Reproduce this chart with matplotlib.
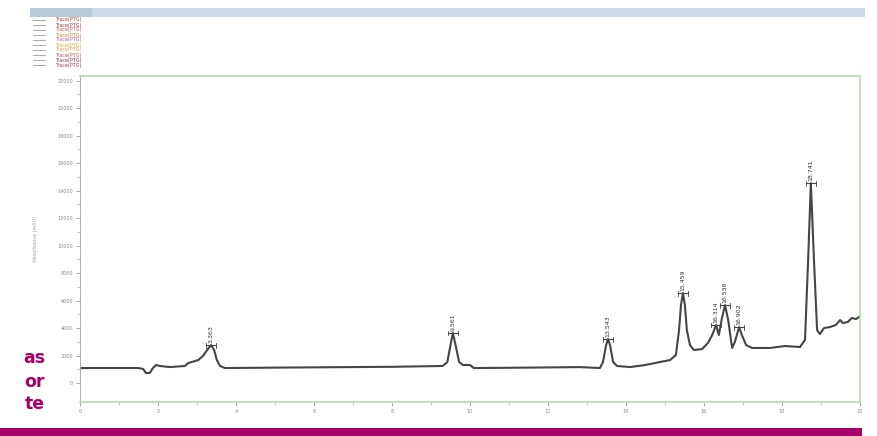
import numpy as np
import matplotlib.pyplot as plt
from matplotlib.patches import Rectangle

# chromatogram trace (time in min, signal)
time_min = [0.0, 1.5, 1.62, 1.69, 1.79, 1.87, 1.95, 2.05, 2.31, 2.69, 2.77, 2.87, 3.03, 3.15,
            3.26, 3.36, 3.44, 3.51, 3.59, 3.72, 5.0, 6.5, 8.0, 9.3, 9.42, 9.5, 9.56, 9.63,
            9.72, 9.82, 10.0, 10.1, 11.5, 12.82, 13.33, 13.41, 13.49, 13.54, 13.59, 13.67,
            13.77, 14.1, 14.49, 14.74, 14.87, 15.13, 15.28, 15.36, 15.41, 15.46, 15.51,
            15.56, 15.64, 15.74, 15.95, 16.10, 16.21, 16.31, 16.38, 16.46, 16.54, 16.62,
            16.72, 16.79, 16.90, 16.97, 17.08, 17.23, 17.69, 18.08, 18.46, 18.59, 18.67,
            18.74, 18.82, 18.90, 18.97, 19.08, 19.23, 19.38, 19.49, 19.56, 19.69, 19.79,
            19.90, 20.0]
signal = [1090, 1090, 1020, 730, 730, 1090, 1310, 1240, 1160, 1240, 1450, 1530, 1670, 1960,
          2400, 2760, 2400, 1670, 1240, 1090, 1120, 1150, 1180, 1240, 1530, 2760, 3640, 2760,
          1530, 1310, 1310, 1090, 1120, 1160, 1090, 1530, 2760, 3200, 2760, 1530,
          1240, 1160, 1310, 1450, 1530, 1670, 2040, 3850, 5670, 6540, 5670,
          3850, 2760, 2400, 2470, 2910, 3490, 4220, 3490, 4730, 5670, 4580,
          2550, 2980, 4070, 3490, 2760, 2550, 2550, 2690, 2620, 3130, 8940,
          14540, 8940, 3850, 3560, 4000, 4070, 4220, 4580, 4360, 4440, 4730,
          4650, 4870]

# integrated peaks: retention time and apex height
peak_rt = [3.36, 9.56, 13.54, 15.46, 16.31, 16.54, 16.90, 18.74]
peak_h = [2760, 3640, 3200, 6540, 4220, 5670, 4070, 14540]
peak_text = ['3.363', '9.561', '13.543', '15.459', '16.314', '16.538', '16.902', '18.741']

legend_names = ['Trace(PTG)'] * 10
legend_colors = ['#c0392b', '#a0304a', '#d9534f', '#e07b39', '#c65fa0',
                 '#d4b13a', '#e39a52', '#c0504d', '#8a2b52', '#b03060']

x_ticks = np.arange(0, 21, 2)
y_ticks = np.arange(0, 22001, 2000)

W, H = 878, 436
fig = plt.figure(figsize=(W / 100, H / 100), dpi=100)

# header bar of the software window
fig.patches.append(Rectangle((30 / W, 1 - 17 / H), 835 / W, 9 / H, transform=fig.transFigure,
                             facecolor='#cdd9e7', edgecolor='none'))
fig.patches.append(Rectangle((30 / W, 1 - 17 / H), 62 / W, 9 / H, transform=fig.transFigure,
                             facecolor='#b9c9dc', edgecolor='none'))

# legend rows
for i, (name, col) in enumerate(zip(legend_names, legend_colors)):
    yy = 1 - (20 + 5 * i) / H
    fig.add_artist(plt.Line2D([33 / W, 45 / W], [yy, yy], color='#9a9a9a', lw=0.6))
    fig.text(55 / W, yy, name, color=col, fontsize=3.5, va='center', ha='left')

ax = fig.add_axes([80 / W, (H - 402) / H, 780 / W, 326 / H])
ax.plot(time_min, signal, color='#454545', lw=1.5)

for rt, h, txt in zip(peak_rt, peak_h, peak_text):
    ax.plot([rt - 0.13, rt + 0.13], [h, h], color='#444444', lw=0.8)
    ax.plot([rt - 0.13, rt - 0.13], [h - 180, h + 180], color='#444444', lw=0.6)
    ax.plot([rt + 0.13, rt + 0.13], [h - 180, h + 180], color='#444444', lw=0.6)
    ax.text(rt, h + 150, txt, rotation=90, fontsize=4.5, color='#333333',
            ha='center', va='bottom')

ax.set_xlim(0, 20)
ax.set_ylim(-1380, 22330)
ax.set_xticks(x_ticks)
ax.set_xticklabels([str(v) for v in x_ticks])
ax.set_xticks(np.arange(1, 20, 2), minor=True)
ax.set_yticks(y_ticks)
ax.set_yticklabels([str(v) for v in y_ticks])
ax.set_yticks(np.arange(1000, 22001, 2000), minor=True)
ax.tick_params(axis='both', labelsize=3.5, colors='#8a8a8a', length=3, width=0.5, pad=2)
ax.tick_params(which='minor', length=2, width=0.4, colors='#9a9a9a')
for s in ax.spines.values():
    s.set_color('#b8dcb0')
    s.set_linewidth(1.2)
ax.spines['left'].set_color('#a0a0a0')
ax.spines['left'].set_linewidth(0.6)
ax.set_ylabel('Absorbance (mAU)', fontsize=3.5, color='#8fb08a', labelpad=14)

# clipped column text and magenta rule from the page
for txt, yy in zip(['as', 'or', 'te'], [358, 382, 404]):
    fig.text(45 / W, 1 - yy / H, txt, color='#a8006a', fontsize=12.5, fontweight='bold',
             ha='right', va='center')
fig.patches.append(Rectangle((0, 0), 862 / W, 8 / H, transform=fig.transFigure,
                             facecolor='#a8006a', edgecolor='none'))

fig.savefig('out.png', dpi=100)
